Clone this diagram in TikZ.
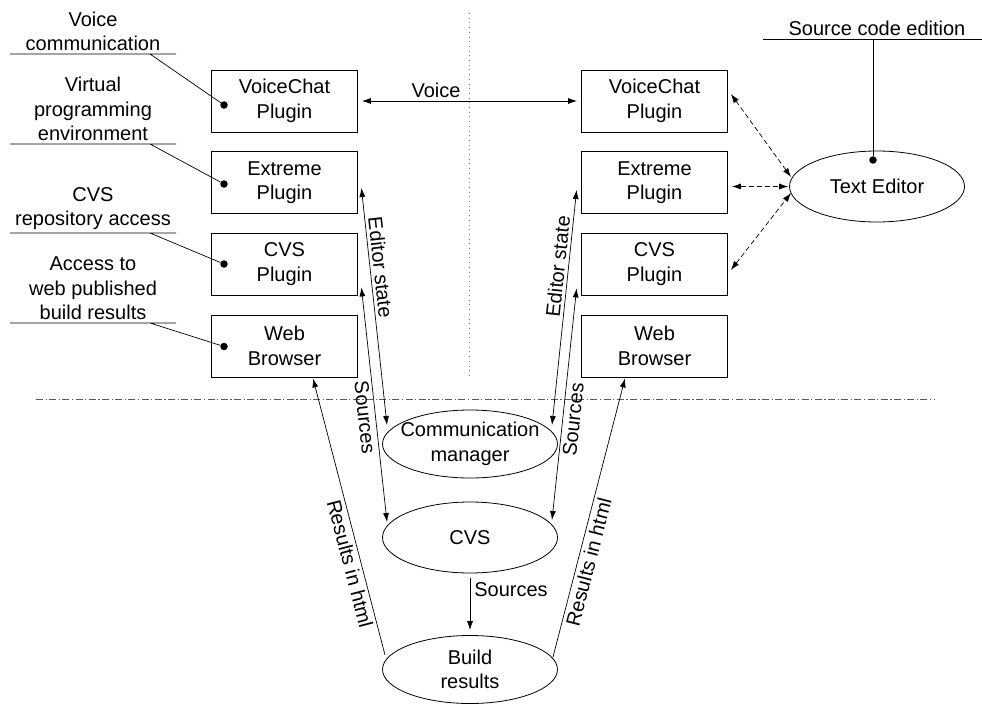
\documentclass[tikz,border=0pt]{standalone}
\usepackage{fontspec}
\setmainfont{Liberation Sans}
\usetikzlibrary{shapes.geometric,arrows.meta}
\begin{document}
\begin{tikzpicture}[x=1pt,y=-1pt,
  font=\fontsize{20}{24.5}\selectfont,
  box/.style={draw, line width=0.8pt, minimum width=146pt, minimum height=62pt, align=center, inner sep=0pt},
  ell/.style={draw, line width=0.8pt, ellipse, minimum width=175pt, minimum height=#1, inner sep=0pt},
  con/.style={line width=0.7pt},
  tip/.tip={Latex[length=9pt,width=6pt]},
  arr/.style={con, -tip},
  rarr/.style={con, tip-},
  darr/.style={con, tip-tip},
  dashedarr/.style={darr, dash pattern=on 5pt off 3pt},
  dot/.style={circle, fill, inner sep=0pt, minimum size=7.5pt},
  note/.style={align=center, anchor=south, inner sep=3pt},
  lab/.style={inner sep=3pt, sloped}
]
\useasboundingbox (0,0) rectangle (982,704);

% separators
\draw[gray, dash pattern=on 1pt off 3.7pt, line width=0.8pt] (469.5,13) -- (469.5,378);
\draw[black!65, dash pattern=on 7pt off 2.5pt on 1.2pt off 2.5pt, line width=0.8pt] (36,399) -- (935,399);

% left boxes
\node[box] (voicel) at (284.5,101) {VoiceChat\\Plugin};
\node[box] (extl) at (284.5,182.5) {Extreme\\Plugin};
\node[box] (cvsl) at (284.5,264) {CVS\\Plugin};
\node[box] (webl) at (284.5,346) {Web\\Browser};
% right boxes
\node[box] (voicer) at (654.5,101) {VoiceChat\\Plugin};
\node[box] (extr) at (654.5,182.5) {Extreme\\Plugin};
\node[box] (cvsr) at (654.5,264) {CVS\\Plugin};
\node[box] (webr) at (654.5,346) {Web\\Browser};

% ellipses
\node[ell=71pt, label={center:Text Editor}] (te) at (877,186.5) {};
\node[ell=68pt, label={[align=center]center:Communication\\manager}] (comm) at (470,444) {};
\node[ell=71pt, label={center:CVS}] (cvs) at (470,537.5) {};
\node[ell=68pt, label={[align=center]center:Build\\results}] (build) at (470,669.5) {};

% annotations
\node[note] (n1) at (93,54) {Voice\\communication};
\node[note] (n2) at (93,144) {Virtual\\programming\\environment};
\node[note] (n3) at (93,233) {CVS\\repository access};
\node[note] (n4) at (93,323) {Access to\\web published\\build results};
\node[note] (n5) at (877,39) {Source code edition};

\coordinate (u1l) at (10,54);  \coordinate (u1r) at (176,54);  \coordinate (u1c) at (150,54);
\coordinate (u2l) at (10,144); \coordinate (u2r) at (176,144); \coordinate (u2c) at (150,144);
\coordinate (u3l) at (10,233); \coordinate (u3r) at (176,233); \coordinate (u3c) at (150,233);
\coordinate (u4l) at (10,323); \coordinate (u4r) at (176,323); \coordinate (u4c) at (150,323);
\coordinate (u5l) at (763,39); \coordinate (u5r) at (982,39);  \coordinate (u5c) at (873,39);

\node[dot] (d1) at (224,105) {};
\node[dot] (d2) at (224,184) {};
\node[dot] (d3) at (224,264) {};
\node[dot] (d4) at (224,346.5) {};
\node[dot] (d5) at (873,160) {};

\draw[con] (u1l) -- (u1r) (u1c) -- (d1);
\draw[con] (u2l) -- (u2r) (u2c) -- (d2);
\draw[con] (u3l) -- (u3r) (u3c) -- (d3);
\draw[con] (u4l) -- (u4r) (u4c) -- (d4);
\draw[con] (u5l) -- (u5r) (u5c) -- (d5);

% voice
\draw[darr, shorten <=4pt, shorten >=4pt] (voicel) -- node[above, inner sep=3pt, pos=0.35] (voicelab) {Voice} (voicer);

% editor state
\draw[darr] ([shift={(3.5,5.5)}]extl.east) -- node[lab, above, pos=0.34] (esl) {Editor state} ([shift={(-83,-19)}]comm.center);
\draw[darr] ([shift={(82,-19)}]comm.center) -- node[lab, above, pos=0.67] (esr) {Editor state} ([shift={(-4.5,7.5)}]extr.west);

% sources
\draw[darr] ([shift={(3.5,-8)}]cvsl.south east) -- node[lab, below, pos=0.55] (srl) {Sources} ([shift={(-83,-15.5)}]cvs.center);
\draw[darr] ([shift={(82,-17.5)}]cvs.center) -- node[lab, below, pos=0.44] (srr) {Sources} ([shift={(-4.5,-7)}]cvsr.south west);

% results in html
\draw[rarr] ([shift={(28.5,1)}]webl.south) -- node[lab, below, pos=0.66] (rhl) {Results in html} ([shift={(-85,-14.5)}]build.center);
\draw[arr] ([shift={(83,-12.5)}]build.center) -- node[lab, below, pos=0.35] (rhr) {Results in html} ([shift={(-29.5,1)}]webr.south);

% cvs -> build
\draw[arr, shorten <=5pt, shorten >=5pt] (cvs) -- node[right, pos=0.27, inner sep=4pt] (srb) {Sources} (build);

% text editor dashed
\draw[dashedarr] ([shift={(3,-7)}]voicer.east) -- ([shift={(-86,-9.5)}]te.center);
\draw[dashedarr] ([shift={(4,4)}]extr.east) -- ([shift={(-1,0)}]te.west);
\draw[dashedarr] ([shift={(3,6)}]cvsr.east) -- ([shift={(-86,6.5)}]te.center);

\end{tikzpicture}
\end{document}
